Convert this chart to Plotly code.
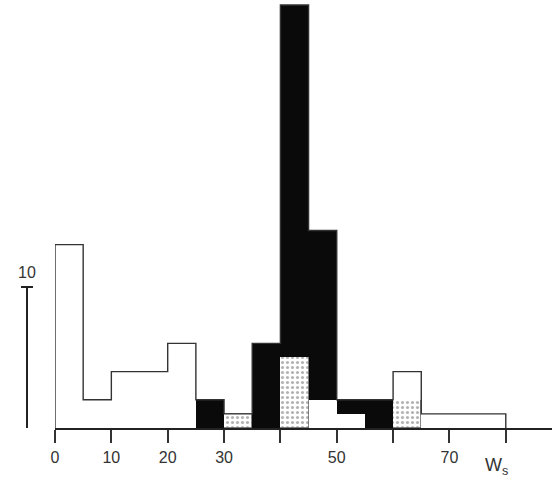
import plotly.graph_objects as go

# Data: bins of width 5 along W_s
bin_left = [0, 5, 10, 15, 20, 25, 30, 35, 40, 45, 50, 55, 60, 65, 70, 75]
bin_width = 5
hatched_counts = [0, 0, 0, 0, 0, 0, 1, 0, 5, 0, 0, 0, 2, 0, 0, 0]
open_counts = [13, 2, 4, 4, 6, 0, 0, 0, 0, 2, 1, 0, 2, 1, 1, 1]
black_counts = [0, 0, 0, 0, 0, 2, 0, 6, 25, 12, 1, 2, 0, 0, 0, 0]
labelled_ticks = [0, 10, 20, 30, 50, 70]
unlabelled_ticks = [40, 60, 80]
scale_value = 10

centers = [b + bin_width / 2 for b in bin_left]
totals = [h + o + k for h, o, k in zip(hatched_counts, open_counts, black_counts)]

fig = go.Figure()

fig.add_trace(go.Bar(
    x=centers, y=hatched_counts, width=bin_width,
    marker=dict(color="white",
                line=dict(color="#666", width=0.8),
                pattern=dict(shape=".", fgcolor="#666", bgcolor="white",
                             size=5, solidity=0.3)),
    showlegend=False, hoverinfo="skip"))
fig.add_trace(go.Bar(
    x=centers, y=open_counts, width=bin_width,
    marker=dict(color="white", line=dict(width=0)),
    showlegend=False, hoverinfo="skip"))
fig.add_trace(go.Bar(
    x=centers, y=black_counts, width=bin_width,
    marker=dict(color="#0a0a0a", line=dict(width=0)),
    showlegend=False, hoverinfo="skip"))

# Envelope outline as step line
edges = bin_left + [bin_left[-1] + bin_width]
step_x = [edges[0]] + edges + [edges[-1]]
step_y = [0] + totals + [totals[-1]] + [0]
fig.add_trace(go.Scatter(
    x=step_x, y=step_y, mode="lines", line=dict(shape="hv", color="#333", width=1.4),
    showlegend=False, hoverinfo="skip"))

font_main = "Liberation Sans, Arial, sans-serif"

fig.update_layout(
    width=559, height=482,
    margin=dict(l=55, r=7, t=0, b=54),
    paper_bgcolor="white", plot_bgcolor="white",
    barmode="stack", bargap=0,
    font=dict(family=font_main, size=16, color="#333"),
    xaxis=dict(range=[0, 88.2], showgrid=False, zeroline=False,
               showline=True, linecolor="#222", linewidth=1.6,
               tickmode="array", tickvals=labelled_ticks,
               ticktext=[str(v) for v in labelled_ticks],
               ticks="outside", ticklen=13, tickwidth=1.5, tickcolor="#333",
               ticklabelstandoff=1,
               minor=dict(tickmode="array", tickvals=unlabelled_ticks,
                          ticks="outside", ticklen=13, tickwidth=1.5,
                          tickcolor="#333", showgrid=False),
               tickfont=dict(family=font_main, size=16, color="#333")),
    yaxis=dict(range=[0, 30.35], visible=False),
    shapes=[
        dict(type="line", xref="paper", yref="y", x0=-0.0563, x1=-0.0563,
             y0=0, y1=scale_value, line=dict(color="#222", width=2)),
        dict(type="line", xref="paper", yref="y", x0=-0.0684, x1=-0.0443,
             y0=scale_value, y1=scale_value, line=dict(color="#222", width=2)),
    ],
    annotations=[
        dict(text=str(scale_value), xref="paper", yref="y", x=-0.0563, y=scale_value,
             xanchor="center", yanchor="bottom", yshift=4, showarrow=False,
             font=dict(family=font_main, size=16, color="#333")),
        dict(text="W<sub>s</sub>", xref="x", yref="paper", x=78.3, y=-0.09,
             xanchor="center", yanchor="middle", showarrow=False,
             font=dict(family=font_main, size=18, color="#333")),
    ],
)

fig.write_html("out.html", config={"displayModeBar": False},
               post_script="document.body.style.margin='0px';")
